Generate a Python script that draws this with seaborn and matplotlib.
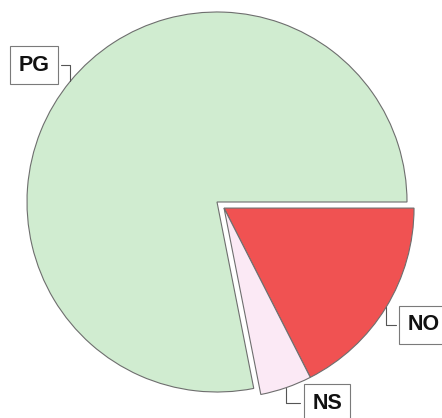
import numpy as np
import matplotlib
matplotlib.use("Agg")
import matplotlib.pyplot as plt
import seaborn as sns

sns.set_theme(style="white")
plt.rcParams["font.family"] = ["Liberation Sans", "DejaVu Sans"]

# parts du camembert (ordre horaire a partir de 3h)
labels = ["NO", "NS", "PG"]
values = [17.5, 4.4, 78.1]
colors = ["#f05252", "#fbe9f5", "#d0ecd0"]

fig = plt.figure(figsize=(4.42, 4.18), dpi=100)
ax = fig.add_axes([0, 0, 1, 1])

wedges, _ = ax.pie(values, colors=colors, startangle=0, counterclock=False,
                   radius=1.0, wedgeprops=dict(edgecolor="#6e6e6e", linewidth=0.8))

# NO et NS detaches ensemble
shift = (0.037, -0.032)
for w in wedges[:2]:
    w.set_center(shift)

ax.set_xlim(-217 / 190, 225 / 190)
ax.set_ylim(-216 / 190, 202 / 190)
ax.set_aspect("auto")
ax.axis("off")

# positions des etiquettes
text_pos = {"PG": (-0.963, 0.721), "NO": (1.089, -0.647), "NS": (0.579, -1.058)}

for w, lab in zip(wedges, labels):
    mid = np.deg2rad((w.theta1 + w.theta2) / 2)
    cx, cy = w.center
    xy = (cx + np.cos(mid), cy + np.sin(mid))
    ax.annotate(lab, xy=xy, xytext=text_pos[lab], ha="center", va="center",
                fontsize=15.5, fontweight="bold", color="#111111",
                bbox=dict(boxstyle="square,pad=0.4", fc="white", ec="#7a7a7a", lw=0.8),
                arrowprops=dict(arrowstyle="-", color="#555555", lw=0.8, shrinkB=0,
                                connectionstyle="angle,angleA=0,angleB=90,rad=0"),
                annotation_clip=False)

fig.savefig("out.png", dpi=100, facecolor="white")
plt.close()
